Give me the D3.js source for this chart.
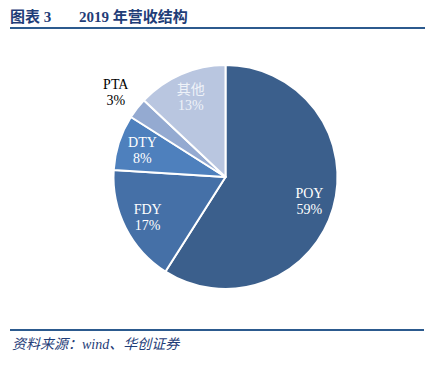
<!DOCTYPE html>
<html>
<head>
<meta charset="utf-8">
<script src="https://cdn.jsdelivr.net/npm/d3@7"></script>
<style>
  body { margin: 0; background: #fff; }
  svg { display: block; }
</style>
</head>
<body>
<div id="chart"></div>
<script>
// slice values, clockwise from 12 o'clock
const categories = ["POY", "FDY", "DTY", "PTA", "其他"];
const shares = [59, 17, 8, 3, 13];
const labelInside = [true, true, true, false, true];

const colors = ["#3b5f8c", "#4570a7", "#4e80bd", "#94aad1", "#b9c6e0"];
const labelColors = ["#ffffff", "#ffffff", "#ffffff", "#000000", "#eef2f8"];

const W = 440, H = 368;
const svg = d3.select("#chart").append("svg")
  .attr("width", W)
  .attr("height", H);

// title
svg.append("text")
  .attr("x", 10)
  .attr("y", 22)
  .attr("fill", "#1f3d78")
  .style("font-family", "'Liberation Serif', 'Noto Sans CJK SC', serif")
  .style("font-weight", "bold")
  .style("font-size", "15px")
  .text("图表 3");
svg.append("text")
  .attr("x", 79)
  .attr("y", 22)
  .attr("fill", "#1f3d78")
  .style("font-family", "'Liberation Serif', 'Noto Sans CJK SC', serif")
  .style("font-weight", "bold")
  .style("font-size", "15px")
  .text("2019 年营收结构");
svg.append("line")
  .attr("x1", 10).attr("x2", 425)
  .attr("y1", 28).attr("y2", 28)
  .attr("stroke", "#2c5a8e")
  .attr("stroke-width", 2);

// pie
const cx = 225.5, cy = 177, R = 112;
const g = svg.append("g").attr("transform", "translate(" + cx + "," + cy + ")");

const data = categories.map((c, i) => ({ name: c, value: shares[i], i: i }));
const pie = d3.pie().value(d => d.value).sort(null);
const arcs = pie(data);

const arc = d3.arc().innerRadius(0).outerRadius(R);
const labelArcIn = d3.arc().innerRadius(R * 0.78).outerRadius(R * 0.78);
const labelArcOut = d3.arc().innerRadius(R * 1.24).outerRadius(R * 1.24);

g.selectAll("path.slice")
  .data(arcs)
  .enter()
  .append("path")
  .attr("class", "slice")
  .attr("d", arc)
  .attr("fill", d => colors[d.data.i])
  .attr("stroke", "#fff")
  .attr("stroke-width", 2)
  .attr("stroke-linejoin", "round");

const lab = g.selectAll("g.lab")
  .data(arcs)
  .enter()
  .append("g")
  .attr("class", "lab")
  .attr("transform", d => {
    const p = labelInside[d.data.i] ? labelArcIn.centroid(d) : labelArcOut.centroid(d);
    return "translate(" + p[0] + "," + p[1] + ")";
  });

lab.append("text")
  .attr("text-anchor", "middle")
  .attr("y", -3)
  .attr("fill", d => labelColors[d.data.i])
  .style("font-family", "'Liberation Serif', 'Noto Sans CJK SC', serif")
  .style("font-size", "14px")
  .text(d => d.data.name);
lab.append("text")
  .attr("text-anchor", "middle")
  .attr("y", 13)
  .attr("fill", d => labelColors[d.data.i])
  .style("font-family", "'Liberation Serif', serif")
  .style("font-size", "14px")
  .text(d => d.data.value + "%");

// source
svg.append("line")
  .attr("x1", 10).attr("x2", 424)
  .attr("y1", 330).attr("y2", 330)
  .attr("stroke", "#2c5a8e")
  .attr("stroke-width", 2);
svg.append("text")
  .attr("x", 12)
  .attr("y", 349)
  .attr("fill", "#1f3d78")
  .style("font-family", "'Liberation Serif', 'Noto Sans CJK SC', serif")
  .style("font-style", "italic")
  .style("font-size", "14px")
  .text("资料来源：wind、华创证券");
</script>
</body>
</html>
